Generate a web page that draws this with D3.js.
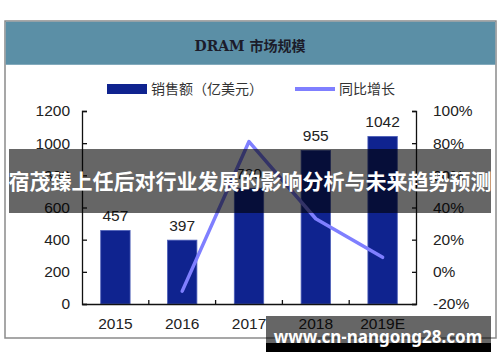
<!DOCTYPE html>
<html>
<head>
<meta charset="utf-8">
<script src="https://cdn.jsdelivr.net/npm/d3@7"></script>
<style>
  body { margin: 0; background: #fff; }
  svg { display: block; }
</style>
</head>
<body>
<div id="main"></div>
<script>

var years = ["2015", "2016", "2017", "2018", "2019E"]
var sales = [457, 397, 720, 955, 1042]
var growth = [null, -12, 81, 33, 9]
var leftTicks = [0, 200, 400, 600, 800, 1000, 1200]
var rightTicks = [-20, 0, 20, 40, 60, 80, 100]

var w = 500, h = 362

var svg = d3.select("#main")
	.append("svg")
	.attr("width", w)
	.attr("height", h)

// frame + header
svg.append("rect")
	.attr("x", 5).attr("y", 21)
	.attr("width", 491).attr("height", 317)
	.attr("fill", "#fff")
	.attr("stroke", "#8a8a8a")
	.attr("stroke-width", 1.5)

svg.append("rect")
	.attr("x", 5.75).attr("y", 21.75)
	.attr("width", 489.5).attr("height", 43)
	.attr("fill", "#5b8fa6")

svg.append("text")
	.attr("x", 250).attr("y", 51)
	.attr("text-anchor", "middle")
	.style("font-family", "'DejaVu Serif', 'Noto Sans CJK SC', serif")
	.style("font-size", "14px")
	.style("font-weight", "bold")
	.attr("fill", "#1c1c2a")
	.text("DRAM  市场规模")

// scales
var x = d3.scaleBand()
	.domain(years)
	.range([82, 416])

var yL = d3.scaleLinear().domain([0, 1200]).range([304, 111])
var yR = d3.scaleLinear().domain([-20, 100]).range([304, 111])

var barW = x.bandwidth() * 0.44

// legend
var leg = svg.append("g")
	.style("font-family", "'Noto Sans CJK SC', sans-serif")
	.style("font-size", "14px")
	.attr("fill", "#333")
leg.append("rect")
	.attr("x", 107).attr("y", 84)
	.attr("width", 40).attr("height", 10)
	.attr("fill", "#0f238f")
leg.append("text").attr("x", 151).attr("y", 94).text("销售额（亿美元）")
leg.append("line")
	.attr("x1", 295).attr("x2", 335)
	.attr("y1", 89).attr("y2", 89)
	.attr("stroke", "#7f7fff")
	.attr("stroke-width", 4)
leg.append("text").attr("x", 339).attr("y", 94).text("同比增长")

// bars
svg.selectAll(".bar")
	.data(sales)
	.enter()
	.append("rect")
	.attr("class", "bar")
	.attr("x", function(d, i) { return x(years[i]) + (x.bandwidth() - barW) / 2 })
	.attr("y", function(d) { return yL(d) })
	.attr("width", barW)
	.attr("height", function(d) { return yL(0) - yL(d) })
	.attr("fill", "#0f238f")
	.attr("stroke", "#4d5fb8")
	.attr("stroke-width", 0.8)

svg.selectAll(".val")
	.data(sales)
	.enter()
	.append("text")
	.attr("class", "val")
	.attr("x", function(d, i) { return x(years[i]) + x.bandwidth() / 2 })
	.attr("y", function(d) { return yL(d) - 9 })
	.attr("text-anchor", "middle")
	.style("font-family", "'Liberation Sans', Arial, sans-serif")
	.style("font-size", "15.5px")
	.attr("fill", "#222")
	.text(function(d) { return d })

// growth line
var line = d3.line()
	.defined(function(d) { return d != null })
	.x(function(d, i) { return x(years[i]) + x.bandwidth() / 2 })
	.y(function(d) { return yR(d) })

svg.append("path")
	.datum(growth)
	.attr("d", line)
	.attr("fill", "none")
	.attr("stroke", "#7f7fff")
	.attr("stroke-width", 3.5)
	.attr("stroke-linecap", "round")
	.attr("stroke-linejoin", "round")

// axes
var axisFont = function(g) {
	g.selectAll("text")
		.style("font-family", "'Liberation Sans', Arial, sans-serif")
		.style("font-size", "15.5px")
		.attr("fill", "#222")
	g.selectAll("line, path").attr("stroke", "#111").attr("stroke-width", 1.3)
}

svg.append("g")
	.attr("transform", "translate(82,0)")
	.call(d3.axisLeft(yL).tickValues(leftTicks).tickFormat(d3.format("d"))
		.tickSizeInner(-5).tickSizeOuter(-5).tickPadding(12))
	.call(axisFont)

svg.append("g")
	.attr("transform", "translate(416,0)")
	.call(d3.axisRight(yR).tickValues(rightTicks).tickSizeInner(-4).tickSizeOuter(-4).tickPadding(17)
		.tickFormat(function(d) { return d + "%" }))
	.call(axisFont)

var xg = svg.append("g")
	.attr("transform", "translate(0,304)")
	.call(d3.axisBottom(x).tickSize(0).tickPadding(14))
	.call(axisFont)

xg.selectAll(".sep")
	.data(years.slice(1))
	.enter()
	.append("line")
	.attr("class", "sep")
	.attr("x1", function(d) { return x(d) }).attr("x2", function(d) { return x(d) })
	.attr("y1", 0).attr("y2", -4)
	.attr("stroke", "#111")
	.attr("stroke-width", 1.3)

// overlay banner
svg.append("rect")
	.attr("x", 9).attr("y", 149)
	.attr("width", 482).attr("height", 64)
	.attr("fill", "#000")
	.attr("opacity", 0.6)

svg.append("text")
	.attr("x", 250).attr("y", 189)
	.attr("text-anchor", "middle")
	.style("font-family", "'Noto Sans CJK SC', sans-serif")
	.style("font-size", "21px")
	.style("font-weight", "bold")
	.attr("fill", "#fff")
	.text("宿茂臻上任后对行业发展的影响分析与未来趋势预测")

// watermark
svg.append("rect")
	.attr("x", 266).attr("y", 316)
	.attr("width", 225).attr("height", 27)
	.attr("fill", "#000")
	.attr("opacity", 0.6)
svg.append("rect")
	.attr("x", 266).attr("y", 343)
	.attr("width", 225).attr("height", 9)
	.attr("fill", "#000")

svg.append("text")
	.attr("x", 378).attr("y", 343)
	.attr("text-anchor", "middle")
	.style("font-family", "'Noto Sans', 'DejaVu Sans', sans-serif")
	.style("font-size", "17px")
	.style("font-weight", "bold")
	.attr("fill", "#fff")
	.text("www.cn-nangong28.com")

</script>
</body>
</html>
